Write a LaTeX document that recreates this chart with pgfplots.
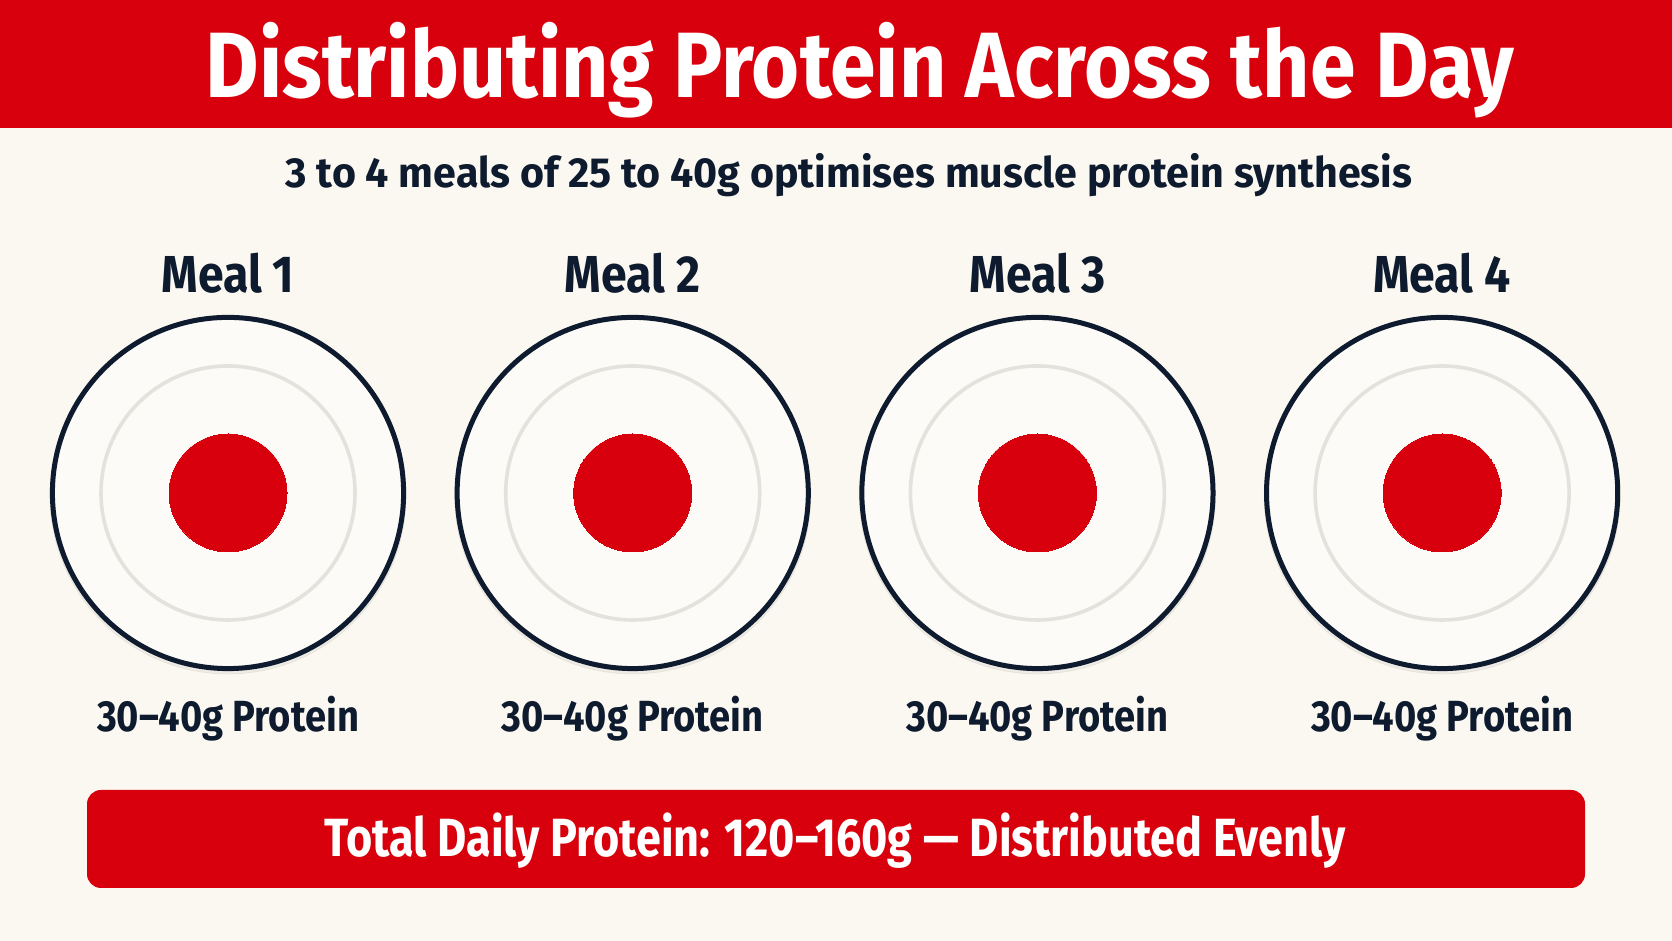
\documentclass[border=0pt]{standalone}
\usepackage{pgfplots}
\pgfplotsset{compat=1.18}
\usepackage{pgfplotstable}
\usepackage{fontspec}
\setmainfont{Fira Sans}
\newfontfamily\titlefont[FakeStretch=0.887]{Fira Sans}
\newfontfamily\subfont[FakeStretch=0.98]{Fira Sans}
\newfontfamily\mealfont[FakeStretch=0.893]{Fira Sans}
\newfontfamily\protfont[FakeStretch=0.875]{Fira Sans}
\newfontfamily\footfont[FakeStretch=0.836]{Fira Sans}

\definecolor{bg}{HTML}{FBF8F2}
\definecolor{redm}{HTML}{D8000C}
\definecolor{navy}{HTML}{0E1B2E}
\definecolor{rim}{HTML}{E4E2DD}
\definecolor{plate}{HTML}{FDFBF8}

% one plate per meal, protein range in grams
\pgfplotstableread{
meal y low high
1 448 30 40
2 448 30 40
3 448 30 40
4 448 30 40
}\plates

\begin{document}
\begin{tikzpicture}
% background, header band, footer box (pixel units, y down)
\begin{scope}[x=0.5pt, y=-0.5pt, yshift=470.5pt]
  \fill[bg] (0,0) rectangle (1672,941);
  \fill[redm] (0,0) rectangle (1672,128);
  \fill[redm, rounded corners=7pt] (87,790) rectangle (1585,888);
\end{scope}

\begin{axis}[
    at={(0,0)}, anchor=south west,
    scale only axis, width=836pt, height=470.5pt,
    xmin=0.4366, xmax=4.568, ymin=0, ymax=941,
    hide axis, clip=false,
]
  % faint shadow under the plate
  \addplot[only marks, mark=*, mark size=89pt, color=black,
    mark options={fill=black, draw=none, opacity=0.05}]
    table[x=meal, y expr=\thisrow{y}-3] {\plates};
  % plate
  \addplot[only marks, mark=*, mark size=87.8pt, color=navy,
    mark options={fill=plate, draw=navy, line width=2.5pt}]
    table[x=meal, y=y] {\plates};
  % inner rim
  \addplot[only marks, mark=o, mark size=63.5pt, color=rim,
    mark options={draw=rim, line width=1.8pt}]
    table[x=meal, y=y] {\plates};
  % protein portion
  \addplot[only marks, mark=*, mark size=29.5pt, color=redm,
    mark options={fill=redm, draw=redm, line width=0pt}]
    table[x=meal, y=y] {\plates};

  % meal names
  \addplot[draw=none, mark=none, nodes near coords, point meta=explicit symbolic,
    every node near coord/.style={anchor=base, text=navy,
      font=\mealfont\bfseries\fontsize{26}{30}\selectfont}]
    coordinates {(1,648) [Meal 1] (2,648) [Meal 2] (3,648) [Meal 3] (4,648) [Meal 4]};
  % protein per meal
  \addplot[draw=none, mark=none, nodes near coords, point meta=explicit symbolic,
    every node near coord/.style={anchor=base, text=navy,
      font=\protfont\bfseries\fontsize{21.8}{26}\selectfont}]
    coordinates {(1,209) [30–40g Protein] (2,209) [30–40g Protein]
                 (3,209) [30–40g Protein] (4,209) [30–40g Protein]};
\end{axis}

\begin{scope}[x=0.5pt, y=-0.5pt, yshift=470.5pt]
  \node[anchor=base, text=white, inner sep=0pt,
    font=\titlefont\bfseries\fontsize{46.4}{50}\selectfont]
    at (860,98) {Distributing Protein Across the Day};
  \node[anchor=base, text=navy, inner sep=0pt,
    font=\subfont\bfseries\fontsize{21}{25}\selectfont]
    at (849,188) {3 to 4 meals of 25 to 40g optimises muscle protein synthesis};
  \node[anchor=base, text=white, inner sep=0pt,
    font=\footfont\bfseries\fontsize{26.9}{30}\selectfont]
    at (835,857) {Total Daily Protein: 120–160g — Distributed Evenly};
\end{scope}
\end{tikzpicture}
\end{document}
